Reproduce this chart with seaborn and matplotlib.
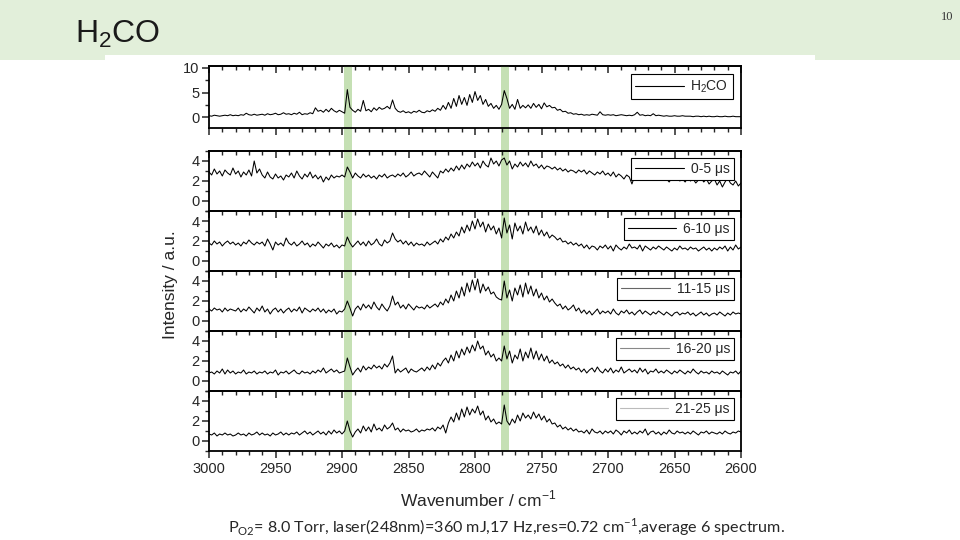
import numpy as np
import pandas as pd
import matplotlib
matplotlib.use("Agg")
import matplotlib.pyplot as plt
import matplotlib.transforms as mtransforms
from matplotlib.patches import Rectangle
from matplotlib.ticker import MultipleLocator
import seaborn as sns

# ---------------- data ----------------
wavenumber = np.arange(3000, 2599, -2)  # 3000 ... 2600 cm-1, 2 cm-1 grid

h2co = [
    0.3,0.2,0.4,0.3,0.2,0.3,0.4,0.3,0.5,0.3,
    0.4,0.3,0.5,0.4,0.8,0.5,0.4,0.6,0.4,0.5,
    0.6,0.4,0.7,0.5,0.6,0.8,0.5,0.6,0.9,0.6,
    0.7,0.5,0.8,0.6,1.0,0.5,0.7,0.6,0.9,0.7,
    1.9,1.2,1.4,1.0,1.6,1.1,1.8,1.3,1.0,1.4,
    1.1,0.8,5.6,2.0,1.4,1.0,1.6,1.2,3.4,1.3,
    1.6,1.1,1.9,1.4,2.0,1.6,1.8,2.2,1.7,3.5,
    1.8,1.2,1.0,1.3,0.9,1.1,0.8,1.2,1.0,1.4,
    1.0,0.9,1.3,1.1,1.5,1.2,1.8,1.4,2.4,1.6,
    3.0,1.8,3.8,2.2,4.4,2.6,4.0,2.4,4.6,3.0,
    5.2,3.4,4.4,2.6,3.6,2.2,2.8,1.8,2.4,1.6,
    2.6,5.4,3.8,1.8,2.6,1.6,3.6,1.8,2.4,1.9,
    2.5,1.8,2.8,2.0,2.6,1.7,2.9,2.1,2.4,1.9,
    2.0,1.4,1.6,1.1,1.2,0.8,0.9,0.6,0.7,0.5,
    0.6,0.4,0.5,0.4,0.6,0.5,0.4,1.1,0.5,0.4,
    0.5,0.4,0.5,0.3,0.4,0.5,0.4,0.3,0.4,0.3,
    0.5,1.0,0.4,0.5,0.3,0.4,0.3,0.7,0.3,0.4,
    0.3,0.2,0.3,0.2,0.2,0.3,0.2,0.2,0.3,0.2,
    0.2,0.2,0.1,0.2,0.2,0.1,0.2,0.1,0.2,0.1,
    0.1,0.2,0.1,0.1,0.2,0.1,0.1,0.2,0.1,0.1,
    0.1,
]

t_0_5 = [
    2.9,2.6,3.2,2.7,3.0,2.5,3.1,2.8,2.6,3.3,
    2.7,3.0,2.4,2.9,2.6,3.1,2.5,4.0,2.8,3.2,
    2.6,2.3,2.9,2.4,2.2,2.7,2.3,2.5,2.1,2.6,
    2.4,2.8,2.3,3.0,2.5,2.2,2.7,2.4,2.9,2.3,
    2.6,2.2,2.5,1.9,2.4,2.1,2.6,2.3,2.5,2.4,
    2.6,2.4,3.4,2.9,2.3,2.8,2.5,2.3,2.7,2.4,
    2.6,2.3,2.5,2.2,2.6,2.4,2.7,2.3,2.5,2.6,
    2.4,2.7,2.5,2.8,2.4,2.6,2.9,2.5,2.7,2.8,
    2.6,3.0,2.7,2.4,2.9,2.6,2.3,3.0,2.8,3.2,
    2.9,3.3,3.0,3.5,3.1,3.6,3.2,3.7,3.4,3.9,
    3.5,3.8,3.3,4.0,3.6,3.4,4.3,3.7,4.0,3.5,
    4.1,4.3,3.6,4.0,3.2,3.7,3.4,3.9,3.5,3.8,
    3.4,4.0,3.5,3.7,3.3,3.6,3.2,3.5,3.4,3.2,
    3.4,3.1,3.3,3.0,3.2,2.9,3.1,3.0,2.8,3.1,
    2.9,3.1,2.7,3.0,2.8,2.6,2.9,2.7,3.0,2.6,
    2.8,2.5,2.9,2.4,2.7,2.5,2.2,2.6,2.4,1.7,
    2.5,2.2,2.6,2.3,2.5,2.1,2.4,2.2,2.6,2.3,
    2.1,2.4,2.2,1.9,2.3,2.1,2.4,2.0,2.2,1.9,
    2.3,2.0,2.2,1.8,2.1,2.3,1.9,2.2,1.7,2.0,
    2.2,1.6,2.0,1.4,1.9,2.3,1.8,1.6,2.0,1.5,
    1.8,
]

t_6_10 = [
    1.8,1.6,2.0,1.7,1.9,1.5,1.8,2.0,1.7,1.9,
    1.6,1.8,1.5,1.9,1.7,2.1,1.8,1.6,1.9,1.7,
    1.9,1.5,2.2,1.7,1.1,1.9,1.6,1.8,1.5,2.3,
    1.8,1.6,1.9,1.5,1.7,2.0,1.6,1.8,1.4,1.7,
    1.5,1.9,1.6,1.3,1.7,1.5,1.8,1.4,1.6,1.3,
    1.6,1.5,2.4,1.8,1.4,1.7,2.0,1.6,1.9,1.5,
    2.0,1.6,1.8,2.2,1.7,1.5,2.1,1.8,2.0,2.8,
    2.2,1.9,2.1,1.7,2.0,1.6,1.9,1.5,1.8,1.6,
    1.7,1.5,1.9,1.6,1.8,2.0,1.7,2.2,1.9,2.4,
    2.1,2.7,2.3,2.9,2.5,3.4,2.8,3.6,3.0,4.0,
    3.2,4.2,3.4,3.9,2.9,3.7,3.1,3.5,2.7,3.3,
    2.3,4.3,2.8,3.6,2.2,3.8,3.0,3.5,2.7,3.9,
    3.0,3.4,2.8,3.5,2.6,3.1,2.5,2.9,2.3,2.6,
    2.4,2.1,2.3,1.9,2.0,1.7,1.9,1.6,1.8,1.5,
    1.7,1.3,1.6,1.2,1.5,1.4,1.1,1.5,1.3,1.6,
    1.2,1.5,1.0,1.6,1.3,1.1,1.4,1.2,1.7,1.3,
    1.4,1.2,1.6,1.0,1.5,1.3,1.1,1.4,1.2,1.5,
    1.3,1.1,1.4,1.2,1.0,1.3,1.1,1.5,1.2,1.3,
    1.1,1.4,1.2,1.3,1.0,1.2,1.4,1.1,1.3,1.0,
    1.3,1.1,1.4,1.2,1.5,1.0,1.4,1.1,1.6,1.2,
    1.4,
]

t_11_15 = [
    1.2,1.0,1.3,1.1,1.2,0.9,1.3,1.0,1.2,1.1,
    1.0,1.3,0.9,1.2,1.0,1.4,1.1,0.8,1.3,1.0,
    1.5,0.9,1.2,0.7,1.1,1.3,0.9,1.2,0.8,1.1,
    1.3,0.9,1.2,1.0,1.4,0.8,1.3,1.1,0.9,1.2,
    1.0,1.3,0.9,1.2,0.8,1.1,0.9,1.2,0.7,1.0,
    0.9,1.2,2.0,1.3,0.5,1.2,1.5,1.1,1.7,1.3,
    1.6,1.2,1.9,1.4,1.1,1.7,1.3,1.0,1.5,2.5,
    1.6,1.9,1.3,1.6,1.2,1.7,1.4,1.1,1.5,1.3,
    1.4,1.2,1.6,1.3,1.5,1.7,1.4,1.9,1.6,2.2,
    1.8,2.6,2.0,3.0,2.3,3.4,2.5,3.8,2.9,4.1,
    3.1,4.2,2.8,3.7,3.0,3.4,2.7,2.9,2.4,2.2,
    2.1,4.0,2.3,3.1,2.0,3.3,2.6,3.6,2.4,3.8,
    2.7,3.5,2.5,3.2,2.3,2.8,2.1,2.5,1.9,2.2,
    1.8,1.5,1.7,1.2,1.5,1.1,1.3,1.6,1.0,1.3,
    0.8,1.1,0.7,1.0,0.6,0.9,1.2,0.7,1.0,0.8,
    1.0,0.7,1.2,0.8,0.6,1.0,0.8,1.1,0.7,0.9,
    0.6,0.9,1.1,0.7,1.0,0.8,0.6,0.9,0.7,1.0,
    0.8,0.6,0.9,0.7,0.5,0.8,0.9,0.6,0.8,0.7,
    0.9,0.6,0.8,0.5,0.7,0.9,0.6,0.8,0.5,0.7,
    0.8,0.6,0.9,0.7,0.5,0.8,0.6,0.9,0.7,0.8,
    0.7,
]

t_16_20 = [
    0.8,0.9,0.7,1.0,0.8,1.2,0.7,1.1,0.8,1.0,
    0.7,0.9,0.8,1.1,0.7,0.9,0.8,1.0,0.7,0.9,
    0.8,1.0,0.7,0.9,0.8,1.1,0.6,0.9,0.8,1.0,
    0.7,0.9,1.1,0.8,0.7,1.0,0.8,0.9,0.7,1.0,
    0.8,1.1,0.9,1.3,0.8,1.0,1.2,0.9,1.1,0.8,
    0.9,1.0,2.3,1.4,0.6,1.0,1.3,0.9,1.5,1.1,
    1.4,1.2,1.6,1.3,1.5,1.2,1.7,1.4,1.8,2.5,
    0.8,1.2,0.9,1.1,1.3,0.8,1.2,1.0,0.9,1.1,
    1.3,1.0,1.4,1.1,1.6,1.2,1.8,1.5,2.0,2.3,
    1.8,2.6,2.0,3.0,2.3,3.2,2.6,3.4,2.8,3.6,
    3.0,4.0,3.2,3.5,2.6,3.0,2.4,2.7,2.0,2.3,
    2.0,3.5,2.2,3.0,1.8,2.6,2.2,3.2,2.0,2.9,
    2.3,3.3,2.2,3.0,2.1,2.7,2.0,2.5,1.8,2.1,
    1.7,1.9,1.5,1.7,1.3,1.6,1.2,1.4,1.1,1.3,
    0.9,1.2,0.8,1.1,1.3,0.9,1.4,1.0,0.8,1.2,
    0.9,1.3,0.8,1.1,0.9,1.4,0.8,1.0,1.2,0.9,
    1.1,0.8,1.3,0.9,1.2,0.7,1.0,0.9,1.2,0.8,
    1.0,0.8,1.1,0.9,0.7,1.0,0.8,1.1,0.9,0.7,
    1.0,0.8,1.2,0.9,0.7,1.0,0.8,0.9,0.7,1.0,
    0.8,0.9,0.7,1.0,0.8,0.6,0.9,0.8,1.0,0.7,
    1.0,
]

t_21_25 = [
    0.7,0.6,0.8,0.5,0.7,0.6,0.8,0.6,0.7,0.5,
    0.6,0.8,0.6,0.7,0.5,0.8,0.6,0.7,0.9,0.6,
    0.8,0.6,0.7,0.5,0.8,0.6,0.7,0.9,0.6,0.8,
    0.6,0.8,0.7,0.9,0.6,0.8,1.0,0.7,0.9,0.6,
    0.8,1.0,0.7,0.9,0.6,1.0,0.7,1.1,0.8,1.0,
    0.7,1.0,2.0,1.0,0.4,0.9,1.2,0.8,1.5,1.0,
    1.4,0.9,1.7,1.1,1.3,1.0,1.6,1.2,1.4,1.8,
    1.1,1.3,0.9,1.2,1.0,1.1,0.9,1.0,1.2,0.9,
    1.1,1.0,1.2,1.1,1.3,1.0,1.4,1.2,1.6,0.8,
    1.8,2.4,1.9,2.8,2.1,3.2,2.4,3.4,2.6,3.2,
    2.8,3.5,2.6,3.0,2.1,2.5,1.9,2.2,1.7,1.9,
    1.7,3.6,2.0,1.6,2.2,1.8,2.6,2.0,2.8,2.3,
    2.6,2.2,2.9,2.3,2.7,2.1,2.5,1.9,2.2,1.7,
    1.8,1.4,1.6,1.2,1.4,1.1,1.3,1.0,1.2,0.9,
    1.0,0.8,1.1,0.7,1.2,0.9,0.8,1.0,0.7,1.0,
    0.8,1.0,0.7,1.1,0.9,0.6,1.0,0.8,1.1,0.7,
    0.9,0.7,1.0,0.8,1.2,0.6,0.9,1.0,0.7,0.9,
    0.6,0.9,0.7,1.1,0.8,0.7,1.0,0.8,0.9,0.7,
    0.9,0.7,1.0,0.8,0.6,0.9,0.8,1.0,0.7,0.9,
    0.8,0.7,0.9,0.7,1.0,0.8,0.7,0.9,0.8,1.0,
    0.9,
]

series_labels = [r"H$\mathregular{_2}$CO", "0-5 μs", "6-10 μs", "11-15 μs", "16-20 μs", "21-25 μs"]
series_values = [h2co, t_0_5, t_6_10, t_11_15, t_16_20, t_21_25]
highlight_bands = [2895.5, 2777.5]   # cm-1, green marker bands
band_width = 5.5                      # cm-1
x_ticks = [3000, 2950, 2900, 2850, 2800, 2750, 2700, 2650, 2600]

# ---------------- style ----------------
sns.set_style("ticks")
plt.rcParams["font.family"] = ["Liberation Sans", "DejaVu Sans"]
plt.rcParams["mathtext.fontset"] = "custom"
plt.rcParams["mathtext.rm"] = "Liberation Sans"

W_PX, H_PX = 960, 540
fig = plt.figure(figsize=(9.6, 5.4), dpi=100)
fig.patch.set_facecolor("white")

def fx(px):
    return px / W_PX

def fy(px):
    return 1 - px / H_PX

# header band
fig.patches.append(Rectangle((0, fy(60)), 1, 60 / H_PX, transform=fig.transFigure,
                             facecolor="#e2efda", edgecolor="none", zorder=0))
fig.patches.append(Rectangle((fx(105), fy(60)), fx(815) - fx(105), 5 / H_PX,
                             transform=fig.transFigure, facecolor="white",
                             edgecolor="none", zorder=0))

fig.text(fx(75), fy(34), r"H$\mathregular{_2}$CO", fontsize=23,
         family=["Liberation Sans", "DejaVu Sans"], va="center", ha="left",
         color="#1a1a1a")
fig.text(fx(953), fy(17), "10", fontsize=9, family=["Liberation Serif"],
         ha="right", va="center", color="#333333")

# axes geometry (pixels)
left_px, right_px = 209, 741
panel_rects = [(66, 128)] + [(151 + 60 * k, 211 + 60 * k) for k in range(5)]
legend_line_colors = ["black", "black", "black", "#666666", "#888888", "#bbbbbb"]

axes = []
for i, (top, bot) in enumerate(panel_rects):
    ax = fig.add_axes([fx(left_px), fy(bot), fx(right_px) - fx(left_px), (bot - top) / H_PX])
    ax.set_facecolor("none")
    df = pd.DataFrame({"wavenumber": wavenumber, "intensity": series_values[i]})
    sns.lineplot(data=df, x="wavenumber", y="intensity", ax=ax, color="black",
                 linewidth=0.75, estimator=None, sort=False, label=series_labels[i],
                 zorder=3)
    ax.set_xlim(3000, 2600)
    if i == 0:
        ax.set_ylim(-2.2, 10.4)
        ax.yaxis.set_major_locator(MultipleLocator(5))
        ax.yaxis.set_minor_locator(MultipleLocator(2.5))
    else:
        ax.set_ylim(-1, 5)
        ax.yaxis.set_major_locator(MultipleLocator(2))
        ax.yaxis.set_minor_locator(MultipleLocator(1))
    ax.set_xticks(x_ticks)
    ax.xaxis.set_minor_locator(MultipleLocator(10))
    ax.set_xlabel("")
    ax.set_ylabel("")
    for sp in ax.spines.values():
        sp.set_visible(True)
        sp.set_linewidth(1.3)
        sp.set_color("black")
    ax.tick_params(axis="y", which="major", direction="out", length=5, width=1.1,
                   labelsize=10.5, pad=2, left=True, right=False)
    ax.tick_params(axis="y", which="minor", direction="out", length=3, width=1.0,
                   left=True, right=False)
    show_bottom = i in (0, 5)
    ax.tick_params(axis="x", which="major", direction="out", length=5, width=1.1,
                   bottom=show_bottom, top=False, labelbottom=(i == 5),
                   labelsize=10.5, pad=3)
    ax.tick_params(axis="x", which="minor", direction="out", length=3, width=1.0,
                   bottom=show_bottom, top=False)
    # top inward ticks
    sec = ax.secondary_xaxis("top")
    sec.set_xticks(x_ticks)
    sec.xaxis.set_minor_locator(MultipleLocator(10))
    sec.tick_params(axis="x", which="major", direction="in", length=5, width=1.1,
                    labeltop=False)
    sec.tick_params(axis="x", which="minor", direction="in", length=3, width=1.0)
    sec.spines["top"].set_linewidth(1.3)

    leg = ax.legend(loc="upper right", frameon=True, fancybox=False, edgecolor="black",
                    framealpha=1, fontsize=10, handlelength=3.5, handletextpad=0.5,
                    borderpad=0.3, borderaxespad=0.5 if i else 0.6)
    leg.get_frame().set_linewidth(0.8)
    for ln in leg.get_lines():
        ln.set_color(legend_line_colors[i])
        ln.set_linewidth(0.8)
    axes.append(ax)

# green marker bands spanning all panels
top_ax = axes[0]
trans = mtransforms.blended_transform_factory(top_ax.transData, fig.transFigure)
y_top = fy(panel_rects[0][0])
y_bot = fy(panel_rects[-1][1])
for c in highlight_bands:
    top_ax.add_patch(Rectangle((c - band_width / 2, y_bot), band_width, y_top - y_bot,
                               transform=trans, facecolor="#c5e0b4", edgecolor="none",
                               clip_on=False, zorder=0.5))

fig.text(fx(170), fy(285), "Intensity / a.u.", rotation=90, fontsize=12.5,
         ha="center", va="center")
fig.text(fx(478), fy(499), r"Wavenumber / cm$^{\mathregular{-1}}$", fontsize=12.5,
         ha="center", va="center")
fig.text(fx(228), fy(527),
         r"P$_{\mathregular{O2}}$= 8.0 Torr, laser(248nm)=360 mJ,17 Hz,res=0.72 cm$^{\mathregular{-1}}$,average 6 spectrum.",
         fontsize=11.6, family=["Lato", "DejaVu Sans"], ha="left", va="center")

fig.savefig("out.png", dpi=100)
